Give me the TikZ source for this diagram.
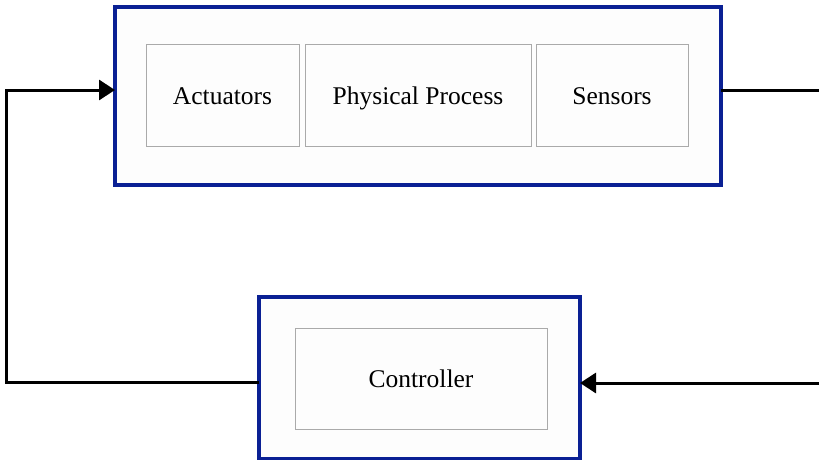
\documentclass[tikz,border=0pt]{standalone}
\usepackage{fontspec}
\setmainfont{Liberation Serif}
\usetikzlibrary{arrows.meta}
\definecolor{frameblue}{RGB}{10,32,148}
\definecolor{boxgray}{RGB}{170,170,170}
\definecolor{paper}{RGB}{253,253,253}
\tikzset{
  system/.style={draw=frameblue, line width=3.7pt, fill=paper, rectangle, outer sep=0pt, inner sep=0pt},
  block/.style={draw=boxgray, line width=1pt, fill=paper, rectangle, outer sep=0pt, inner sep=0pt,
    font=\fontsize{25.5}{30}\selectfont, text=black, text height=20pt, text depth=3pt},
  signal/.style={draw=black, line width=3pt},
  arrowtip/.style={-{Triangle[length=16pt,width=20pt]}}
}
\begin{document}
\begin{tikzpicture}[x=1pt,y=-1pt]
\useasboundingbox (0,0) rectangle (819,460);
% plant with its three stages
\node[system, minimum width=606pt, minimum height=178pt] (plant) at (418,96) {};
\node[block, minimum width=153pt, minimum height=101pt] (act) at (222.5,95.5) {Actuators};
\node[block, minimum width=226pt, minimum height=101pt] (proc) at (418,95.5) {Physical Process};
\node[block, minimum width=152pt, minimum height=101pt] (sens) at (612,95.5) {Sensors};
% controller
\node[system, minimum width=321pt, minimum height=162pt] (ctrl) at (419.5,378) {};
\node[block, minimum width=252pt, minimum height=101pt] (ctrlin) at (421,378.5) {Controller};
% feedback wiring
\coordinate (leftturn) at (6,382);
\coordinate (plantin) at (plant.west |- 0,90);
\coordinate (plantout) at (plant.east |- 0,90);
\coordinate (rightout) at (819,90);
\coordinate (rightin) at (819,383);
\draw[signal, arrowtip] (ctrl.west |- leftturn) -- (leftturn) |- (plantin);
\draw[signal] (plantout) -- (rightout);
\draw[signal, arrowtip] (rightin) -- (ctrl.east |- rightin);
\end{tikzpicture}
\end{document}
